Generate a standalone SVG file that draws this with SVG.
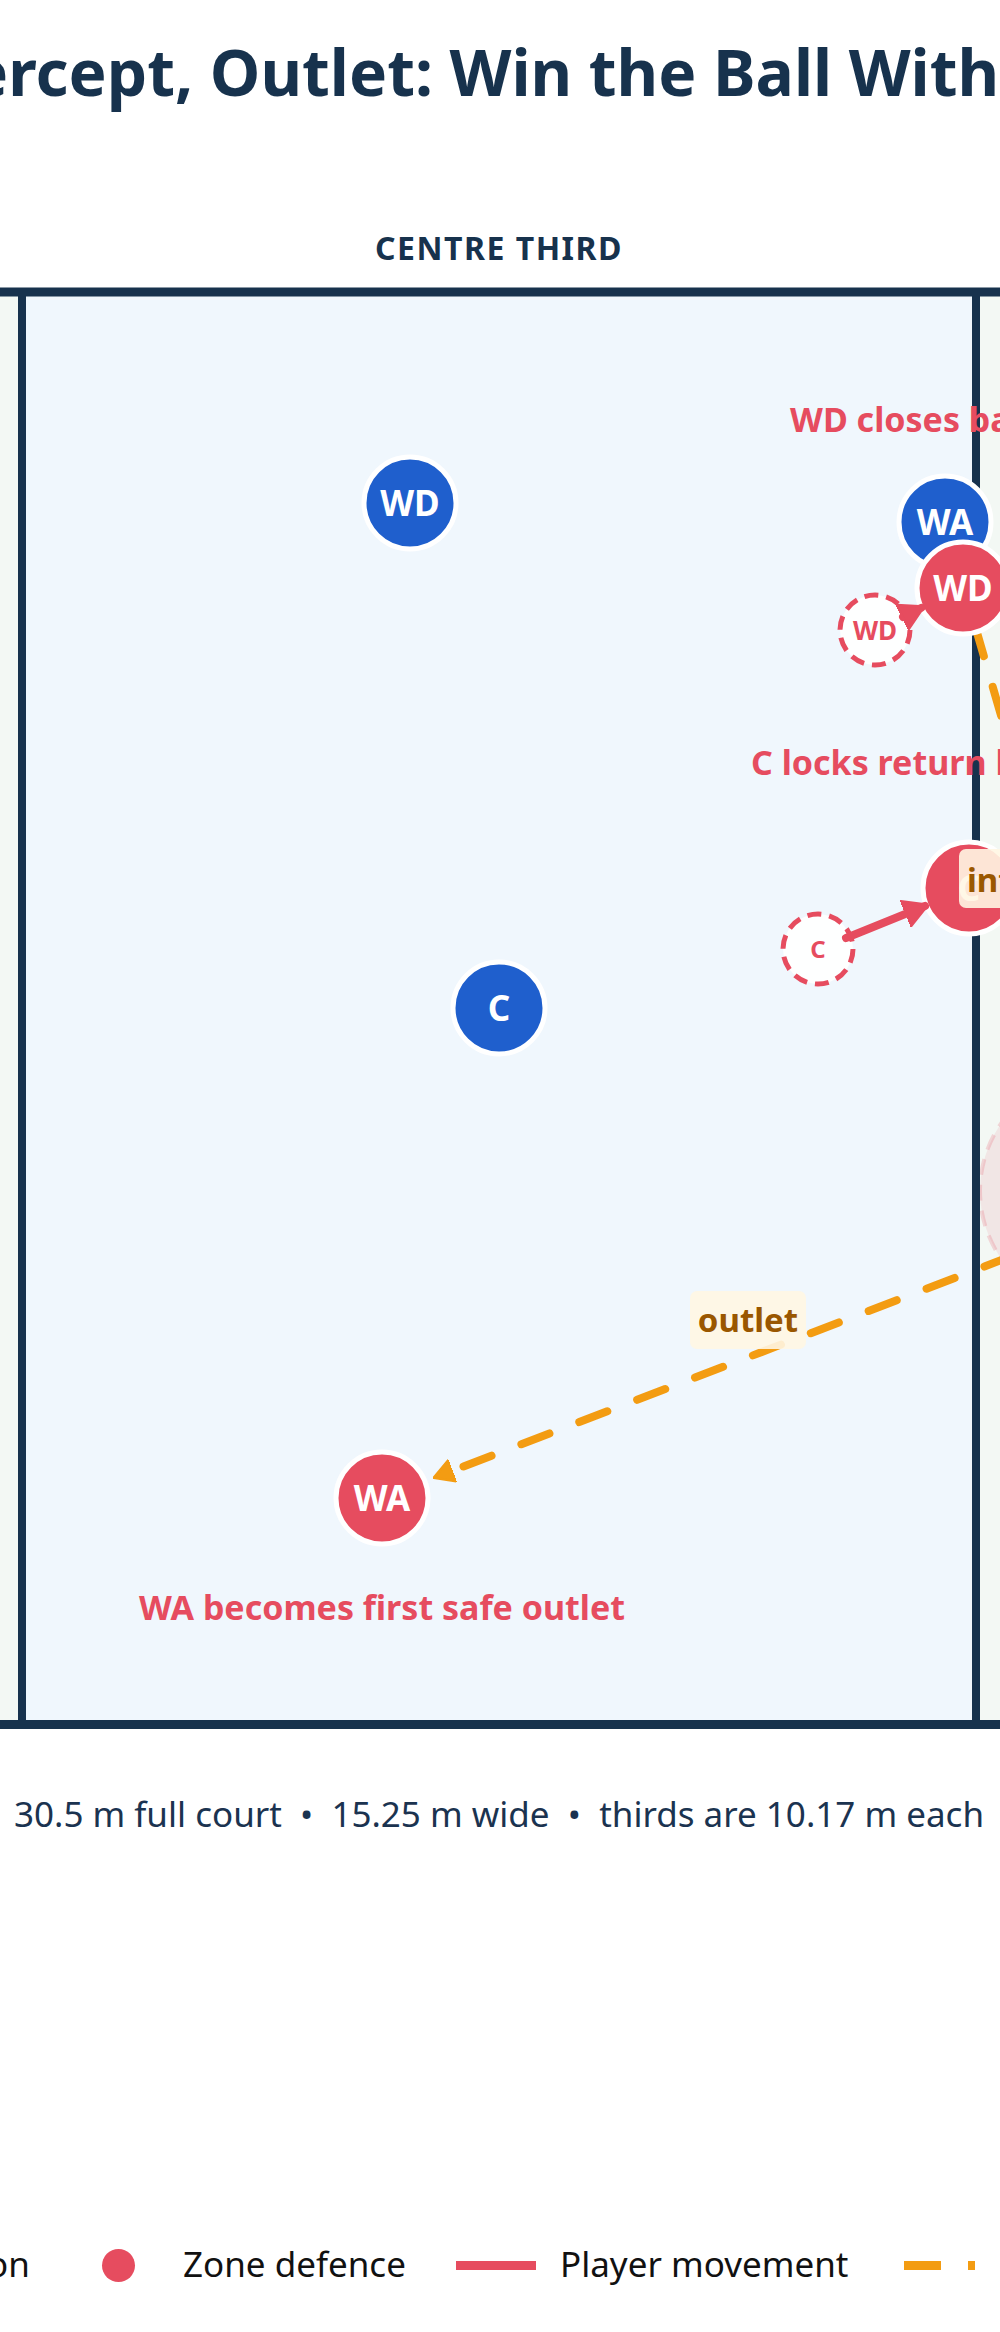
<svg xmlns="http://www.w3.org/2000/svg" width="1000" height="2332" viewBox="0 0 1000 2332">
<style>
.ff{font-family:"Noto Sans","Open Sans","DejaVu Sans",sans-serif}
.title{font-size:64px;font-weight:700;fill:#17324d}
.zone{font-size:32px;font-weight:700;fill:#17324d;letter-spacing:1.5px}
.pl{font-size:35px;font-weight:700;fill:#ffffff;text-anchor:middle}
.ghostt{font-weight:700;fill:#e64c5f;text-anchor:middle}
.att{fill:#1f5fcd;stroke:#ffffff;stroke-width:5}
.def{fill:#e64c5f;stroke:#ffffff;stroke-width:5}
.ghost{fill:#ffffff;fill-opacity:0.9;stroke:#e64c5f;stroke-width:5;stroke-dasharray:14 8}
.note{font-size:34px;font-weight:700;fill:#e64c5f}
.lblbox{fill:#fff6e3;fill-opacity:0.9}
.lbl{font-size:33px;font-weight:700;fill:#9a5700}
.pass{fill:none;stroke:#f39c12;stroke-width:8;stroke-linecap:round;stroke-dasharray:30 32}
.move{fill:none;stroke:#e64c5f;stroke-width:8;stroke-linecap:round}
.foot{font-size:35px;fill:#1b3350;text-anchor:middle}
.leg{font-size:35px;fill:#111111}
</style>
<defs>
<marker id="arrRed" viewBox="0 0 8 10" refX="7" refY="5" markerWidth="3.1" markerHeight="3.7" orient="auto" markerUnits="strokeWidth">
<path d="M0,0.5 L8,5 L0,9.5 Z" fill="#e64c5f" stroke="#e64c5f" stroke-width="1" stroke-linejoin="round"/>
</marker>
<marker id="arrOrange" viewBox="0 0 8 10" refX="7" refY="5" markerWidth="2.6" markerHeight="3.1" orient="auto" markerUnits="strokeWidth">
<path d="M0,0.5 L8,5 L0,9.5 Z" fill="#f39c12" stroke="#f39c12" stroke-width="1" stroke-linejoin="round"/>
</marker>
</defs>
<rect x="0" y="0" width="1000" height="2332" fill="#ffffff"/>
<text class="ff title" x="-30" y="96">ercept, Outlet: Win the Ball Witho</text>
<text class="ff zone" x="499" y="260" text-anchor="middle">CENTRE THIRD</text>

<g id="court">
<rect x="-20" y="292" width="1040" height="1433" fill="#f3f8f4"/>
<rect x="22" y="292" width="954" height="1433" fill="#f0f7fd"/>
<circle id="zone-circle" cx="1099" cy="1191" r="119" fill="#e64c5f" fill-opacity="0.1" stroke="#e64c5f" stroke-opacity="0.2" stroke-width="4" stroke-dasharray="16 10"/>
<line x1="-20" y1="292" x2="1020" y2="292" stroke="#17324d" stroke-width="9"/>
<line x1="-20" y1="1724.5" x2="1020" y2="1724.5" stroke="#17324d" stroke-width="9"/>
<line x1="22" y1="292" x2="22" y2="1724.5" stroke="#17324d" stroke-width="8"/>
<line x1="976" y1="292" x2="976" y2="1724.5" stroke="#17324d" stroke-width="8"/>
</g>

<g id="connectors">
<line class="pass" x1="945" y1="522" x2="1040" y2="850" stroke-dashoffset="14.4"/>
<line class="pass" x1="1150" y1="1203" x2="436" y2="1477" stroke-dashoffset="38.7" marker-end="url(#arrOrange)"/>
</g>

<g id="player-wd-attack">
<circle class="att" cx="410" cy="503" r="46"/>
<text class="ff pl" x="410" y="516">WD</text>
</g>
<g id="player-c-attack">
<circle class="att" cx="499" cy="1008" r="46"/>
<text class="ff pl" x="499" y="1021">C</text>
</g>
<g id="player-wa-attack">
<circle class="att" cx="945" cy="522" r="46"/>
<text class="ff pl" x="945" y="535">WA</text>
</g>
<g id="ghost-wd">
<circle class="ghost" cx="875" cy="630" r="35"/>
<text class="ff ghostt" x="875" y="640" font-size="26">WD</text>
</g>
<g id="player-wd-defence">
<circle class="def" cx="963" cy="588" r="46"/>
<text class="ff pl" x="963" y="601">WD</text>
</g>
<g id="ghost-c">
<circle class="ghost" cx="818" cy="949" r="35"/>
<text class="ff ghostt" x="818" y="958" font-size="24">C</text>
</g>
<g id="player-c-defence">
<circle class="def" cx="969" cy="888" r="46"/>
<text class="ff pl" x="969" y="901">C</text>
</g>
<g id="player-wa-defence">
<circle class="def" cx="382" cy="1498" r="46"/>
<text class="ff pl" x="382" y="1511">WA</text>
</g>

<g id="movement">
<line class="move" x1="903" y1="617" x2="921" y2="608" marker-end="url(#arrRed)"/>
<line class="move" x1="846" y1="938" x2="925" y2="906" marker-end="url(#arrRed)"/>
</g>

<g id="labels">
<rect class="lblbox" x="690" y="1291" width="116" height="58" rx="7"/>
<text class="ff lbl" x="748" y="1332" text-anchor="middle">outlet</text>
<rect class="lblbox" x="959" y="849" width="140" height="59" rx="7"/>
<text class="ff lbl" x="967" y="892">int</text>
<text class="ff note" x="790" y="432">WD closes ba</text>
<text class="ff note" x="751" y="775">C locks return l</text>
<text class="ff note" x="382" y="1620" text-anchor="middle" font-size="33.6">WA becomes first safe outlet</text>
</g>

<text class="ff foot" x="499" y="1827">30.5 m full court &#160;•&#160; 15.25 m wide &#160;•&#160; thirds are 10.17 m each</text>

<g id="legend">
<text class="ff leg" x="-13" y="2277">on</text>
<circle cx="118.5" cy="2265.5" r="16.5" fill="#e64c5f"/>
<text class="ff leg" x="183" y="2277">Zone defence</text>
<line x1="456" y1="2265.5" x2="536" y2="2265.5" stroke="#e64c5f" stroke-width="9"/>
<text class="ff leg" x="560" y="2277">Player movement</text>
<line x1="904" y1="2265.5" x2="975" y2="2265.5" stroke="#f39c12" stroke-width="9" stroke-dasharray="37 27"/>
</g>
</svg>
